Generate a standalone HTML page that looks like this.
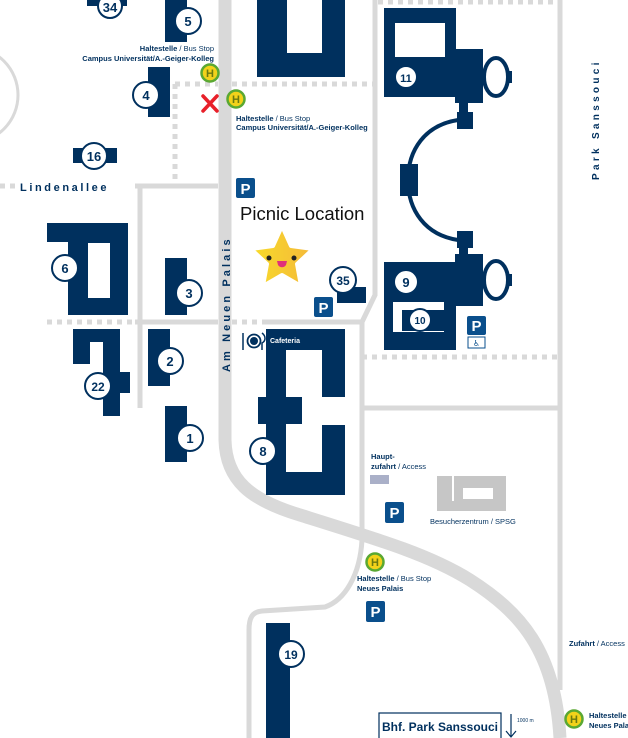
<!DOCTYPE html>
<html><head><meta charset="utf-8"><style>
html,body{margin:0;padding:0;background:#fff;}
svg{display:block;}
.n{font-family:"Liberation Sans",sans-serif;font-weight:bold;font-size:13px;fill:#00305e;text-anchor:middle;}
.s{font-family:"Liberation Sans Narrow","Liberation Sans",sans-serif;font-size:7.5px;fill:#00305e;}
.b{font-weight:bold;}
</style></head><body>
<svg width="628" height="738" viewBox="0 0 628 738" xmlns="http://www.w3.org/2000/svg">
<defs>
<linearGradient id="g" x1="0" x2="1"><stop offset="0" stop-color="#f8dc2a"/><stop offset="1" stop-color="#f4b83a"/></linearGradient>
</defs>
<g fill="none" stroke="#d9d9d9">
<circle cx="-30" cy="95" r="48" stroke-width="3"/>
<path d="M225,0 L225,440 C226,480 250,500 300,515 C380,540 430,555 470,580 C520,612 555,650 560,738" stroke-width="13"/>
<path d="M375,0 L375,295 L362,322 L362,540 C360,575 345,600 325,607 L262,611 C252,612 249,618 249,630 L249,738" stroke-width="5"/>
<path d="M560,0 L560,690" stroke-width="5"/>
<path d="M362,408 L560,408" stroke-width="5"/>
<path d="M135,186 L218,186" stroke-width="5"/>
<path d="M140,186 L140,408" stroke-width="5"/>
<path d="M135,322 L218,322 M265,322 L362,322" stroke-width="5"/>
<g stroke-dasharray="5,5" stroke-width="5">
<path d="M47,322 L135,322"/><path d="M232,322 L265,322"/>
<path d="M0,186 L18,186"/>
<path d="M175,84 L218,84 M232,84 L375,84"/>
<path d="M175,84 L175,186"/>
<path d="M378,2 L560,2"/>
<path d="M362,357 L560,357"/>
</g>
</g>
<g fill="#00305e">
<rect x="87" y="0" width="40" height="6"/>
<rect x="165" y="0" width="22" height="42"/>
<rect x="148" y="67" width="22" height="50"/>
<rect x="73" y="148" width="44" height="15"/>
<path d="M257,0 H345 V77 H257 Z M287,0 V53 H322 V0 Z" fill-rule="evenodd"/>
<path d="M47,223 H128 V315 H68 V242 H47 Z M88,243 V298 H110 V243 Z" fill-rule="evenodd"/>
<rect x="165" y="258" width="22" height="57"/>
<rect x="337" y="287" width="29" height="16"/>
<rect x="148" y="329" width="22" height="57"/>
<rect x="73" y="329" width="17" height="35"/><rect x="88" y="329" width="17" height="13"/>
<rect x="103" y="329" width="17" height="87"/><rect x="118" y="372" width="12" height="21"/>
<rect x="165" y="406" width="22" height="56"/>
<rect x="266" y="329" width="20" height="166"/><rect x="266" y="329" width="79" height="21"/>
<rect x="322" y="329" width="23" height="68"/><rect x="258" y="397" width="44" height="27"/>
<rect x="322" y="425" width="23" height="70"/><rect x="266" y="472" width="79" height="23"/>
<rect x="266" y="623" width="24" height="115"/>
<path d="M384,8 H456 V97 H384 Z M395,23 V57 H445 V23 Z" fill-rule="evenodd"/>
<rect x="455" y="49" width="28" height="54"/>
<rect x="459" y="102" width="9" height="11"/><rect x="457" y="112" width="16" height="17"/>
<rect x="400" y="164" width="18" height="32"/>
<rect x="457" y="231" width="16" height="17"/><rect x="459" y="247" width="9" height="8"/>
<rect x="384" y="262" width="72" height="88"/><rect x="455" y="254" width="28" height="52"/>
<rect x="508" y="71" width="4" height="12"/><rect x="508" y="274" width="4" height="12"/>
</g>
<g fill="none" stroke="#00305e" stroke-width="4">
<ellipse cx="496" cy="77" rx="12" ry="19"/>
<ellipse cx="496" cy="280" rx="12" ry="19"/>
<path d="M458,120 C425,125 408,150 408,180 C408,210 425,235 458,240"/>
</g>
<rect x="393" y="302" width="51" height="30" fill="#fff"/>
<rect x="402" y="310" width="42" height="21" fill="#00305e"/>
<g stroke="#00305e" stroke-width="2" fill="#fff">
<circle cx="110" cy="6" r="12"/><circle cx="188" cy="21" r="13"/><circle cx="146" cy="95" r="13"/>
<circle cx="94" cy="156" r="13"/><circle cx="65" cy="268" r="13"/><circle cx="189" cy="293" r="13"/>
<circle cx="343" cy="280" r="13"/><circle cx="170" cy="361" r="13"/><circle cx="98" cy="386" r="13"/>
<circle cx="190" cy="438" r="13"/><circle cx="263" cy="451" r="13"/><circle cx="291" cy="654" r="13"/>
<circle cx="406" cy="77" r="11"/><circle cx="406" cy="282" r="12"/><circle cx="420" cy="320" r="11"/>
</g>
<g class="n">
<text x="110" y="12">34</text><text x="188" y="26">5</text><text x="146" y="100">4</text>
<text x="94" y="161">16</text><text x="65" y="273">6</text><text x="189" y="298">3</text>
<text x="343" y="285" font-size="12">35</text><text x="170" y="366">2</text><text x="98" y="391" font-size="12">22</text>
<text x="190" y="443">1</text><text x="263" y="456">8</text><text x="291" y="659" font-size="12">19</text>
<text x="406" y="82" font-size="11">11</text><text x="406" y="287">9</text><text x="420" y="324" font-size="10">10</text>
</g>
<g font-family="Liberation Sans,sans-serif" font-weight="bold" font-size="15" fill="#fff" text-anchor="middle">
<rect x="236" y="178" width="19" height="20" rx="2" fill="#0a4f8c"/><text x="245.5" y="194">P</text>
<rect x="314" y="297" width="19" height="20" rx="2" fill="#0a4f8c"/><text x="323.5" y="313">P</text>
<rect x="467" y="316" width="19" height="19" rx="2" fill="#0a4f8c"/><text x="476.5" y="331">P</text>
<rect x="385" y="502" width="19" height="21" rx="2" fill="#0a4f8c"/><text x="394.5" y="518">P</text>
<rect x="366" y="601" width="19" height="21" rx="2" fill="#0a4f8c"/><text x="375.5" y="617">P</text>
</g>
<rect x="468" y="337" width="17" height="11" fill="#fff" stroke="#0a4f8c" stroke-width="1"/>
<text x="476.5" y="346" font-size="8" fill="#0a4f8c" text-anchor="middle" font-family="DejaVu Sans,sans-serif">♿</text>
<g font-family="Liberation Sans,sans-serif" font-weight="bold" font-size="11" text-anchor="middle">
<circle cx="210" cy="73" r="8.5" fill="#f3d21a" stroke="#5aa832" stroke-width="2.5"/><text x="210" y="77" fill="#6b7a10">H</text>
<circle cx="236" cy="99" r="8.5" fill="#f3d21a" stroke="#5aa832" stroke-width="2.5"/><text x="236" y="103" fill="#6b7a10">H</text>
<circle cx="375" cy="562" r="8.5" fill="#f3d21a" stroke="#5aa832" stroke-width="2.5"/><text x="375" y="566" fill="#6b7a10">H</text>
<circle cx="574" cy="719" r="8.5" fill="#f3d21a" stroke="#5aa832" stroke-width="2.5"/><text x="574" y="723" fill="#6b7a10">H</text>
</g>
<path d="M203,96 L217,111 M217,96 L203,111" stroke="#e8202a" stroke-width="3.5" stroke-linecap="round"/>
<g class="s">
<text x="214" y="51" text-anchor="end"><tspan class="b">Haltestelle</tspan> / Bus Stop</text>
<text x="214" y="61" text-anchor="end" class="b">Campus Universität/A.-Geiger-Kolleg</text>
<text x="236" y="121"><tspan class="b">Haltestelle</tspan> / Bus Stop</text>
<text x="236" y="130" class="b">Campus Universität/A.-Geiger-Kolleg</text>
<text x="371" y="459" class="b">Haupt-</text>
<text x="371" y="469"><tspan class="b">zufahrt</tspan> / Access</text>
<text x="430" y="524">Besucherzentrum / SPSG</text>
<text x="357" y="581"><tspan class="b">Haltestelle</tspan> / Bus Stop</text>
<text x="357" y="591" class="b">Neues Palais</text>
<text x="569" y="646"><tspan class="b">Zufahrt</tspan> / Access</text>
<text x="589" y="718"><tspan class="b">Haltestelle</tspan> /</text>
<text x="589" y="728" class="b">Neues Palais</text>
<text x="517" y="722" font-size="5">1000 m</text>
<text x="270" y="343" fill="#fff" class="b" font-size="7">Cafeteria</text>
</g>
<rect x="370" y="475" width="19" height="9" fill="#aab0c8"/>
<path d="M437,476 H506 V511 H437 Z M452,476 V501 H454 V476 Z M463,488 V499 H493 V488 Z" fill="#c6c6c6" fill-rule="evenodd"/>
<circle cx="254" cy="341" r="6.5" fill="none" stroke="#00305e" stroke-width="1.8"/><circle cx="254" cy="341" r="4" fill="#00305e"/>
<path d="M243,333 V350 M262,333 C266,336 266,341 262,343 V350" stroke="#00305e" stroke-width="1.5" fill="none"/>
<text x="20" y="191" font-family="Liberation Sans,sans-serif" font-weight="bold" font-size="11" fill="#00305e" letter-spacing="2.6">Lindenallee</text>
<text transform="translate(230,372) rotate(-90)" font-family="Liberation Sans,sans-serif" font-weight="bold" font-size="11" fill="#00305e" letter-spacing="3.1">Am Neuen Palais</text>
<text transform="translate(599,180) rotate(-90)" font-family="Liberation Sans,sans-serif" font-weight="bold" font-size="10" fill="#00305e" letter-spacing="3.3">Park Sanssouci</text>
<text x="240" y="220" font-family="Liberation Sans,sans-serif" font-size="18.5" fill="#111">Picnic Location</text>
<polygon points="282,226 291,246 313,249 297,264 301,286 282,275 263,286 267,264 251,249 273,246" fill="url(#g)" stroke="#fff" stroke-width="4" stroke-linejoin="round"/>
<circle cx="269" cy="258" r="2.5" fill="#222"/><circle cx="294" cy="258" r="2.5" fill="#222"/>
<path d="M277,261 H287 L286,265 C284,268 280,268 278,265 Z" fill="#e0307a"/>
<rect x="379" y="713" width="122" height="26" fill="#fff" stroke="#00305e" stroke-width="1.2"/>
<text x="440" y="731" font-family="Liberation Sans,sans-serif" font-weight="bold" font-size="12" fill="#00305e" text-anchor="middle">Bhf. Park Sanssouci</text>
<path d="M511,714 V737 M506,731 L511,737 L516,731" stroke="#00305e" stroke-width="1.2" fill="none"/>
</svg>
</body></html>
